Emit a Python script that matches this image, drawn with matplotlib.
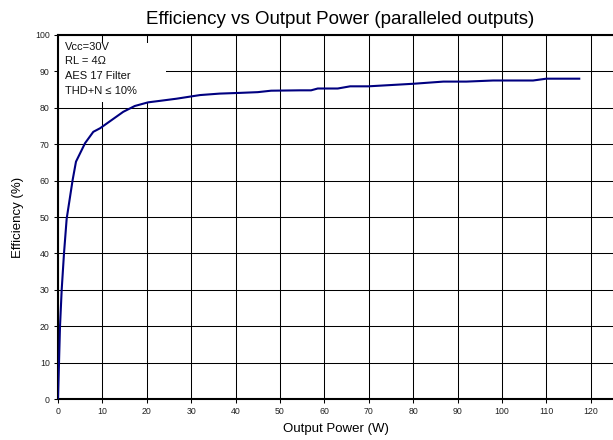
import matplotlib
matplotlib.use("Agg")
import matplotlib.pyplot as plt
from matplotlib.patches import Rectangle

plt.rcParams['font.family'] = ['Liberation Sans', 'DejaVu Sans']

power_w = [0, 0.45, 0.83, 1.35, 1.95, 3.3, 4.05, 6.1, 7.95, 9.5, 14.7, 17.3, 20.3,
           22.9, 26.7, 30.4, 32, 36.4, 41, 45, 48, 54.5, 57, 58.5, 63, 65.8, 69.9,
           80, 86.8, 92, 98, 107, 110, 117.4]
efficiency = [0, 19.9, 30, 40, 49.5, 60.2, 65.2, 70.3, 73.4, 74.4, 78.9, 80.5, 81.5,
              81.9, 82.5, 83.2, 83.5, 83.9, 84.1, 84.3, 84.7, 84.8, 84.8, 85.3, 85.3,
              85.9, 85.9, 86.6, 87.2, 87.2, 87.5, 87.5, 88.0, 88.0]
x_ticks = list(range(0, 121, 10))
y_ticks = list(range(0, 101, 10))
notes = ["Vcc=30V", "RL = 4\u03a9", "AES 17 Filter", "THD+N \u2264 10%"]

fig = plt.figure(figsize=(6.13, 4.4), dpi=100)
ax = fig.add_axes([58/613, 1-399/440, 1-58/613, (399-35)/440])
ax.set_xlim(0, 125)
ax.set_ylim(0, 100)
ax.set_xticks(x_ticks)
ax.set_yticks(y_ticks)
ax.grid(True, color='black', lw=0.75, zorder=1)
ax.set_axisbelow(True)

ax.add_patch(Rectangle((0.3, 81.6), 24.0, 16.2, facecolor='white', edgecolor='none', zorder=2))

ax.plot(power_w, efficiency, color='#000080', lw=1.5, zorder=3)

for i, t in enumerate(notes):
    ax.annotate(t, xy=(65/613, 1-(47 + i*14.5)/440), xycoords='figure fraction',
                fontsize=8, va='center', ha='left', color='#111111', zorder=4)

for s in ['left', 'bottom', 'top']:
    ax.spines[s].set_linewidth(1.5)
ax.spines['right'].set_visible(False)
ax.tick_params(axis='both', direction='out', length=3, width=0.75, labelsize=6.3,
               labelcolor='#222222', pad=3)

ax.set_xlabel('Output Power (W)', fontsize=9.5, labelpad=5)
ax.set_ylabel('Efficiency (%)', fontsize=9.5, labelpad=8)
fig.text(340/613, 1-20/440, 'Efficiency vs Output Power (paralleled outputs)',
         ha='center', va='center', fontsize=13.5)

fig.savefig('out.png', dpi=100)
